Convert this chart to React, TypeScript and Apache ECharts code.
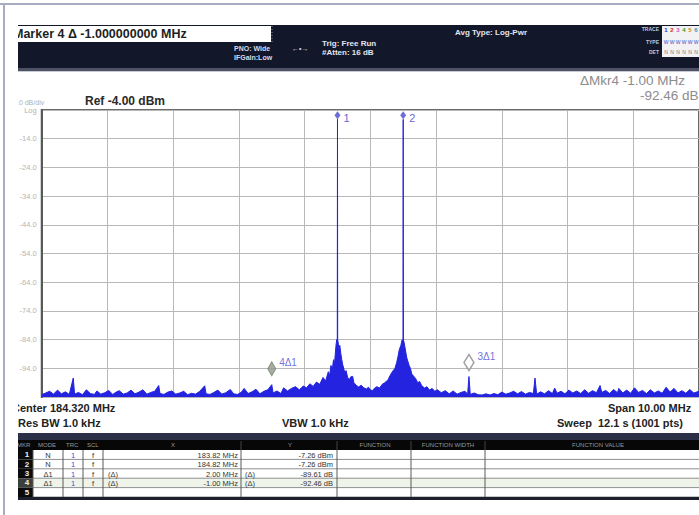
import React, { useEffect, useRef } from "react";
import * as echarts from "echarts";

// ---- instrument settings ----
const CENTER_MHZ = 184.32;
const SPAN_MHZ = 10;
const REF_DBM = -4;
const DB_PER_DIV = 10;

// ---- trace (frequency MHz, level dBm) ----
const trace: [number, number][] = [
  [179.32, -103.2], [179.38, -102.6], [179.44, -102.0], [179.5, -103.0], [179.56, -101.6],
  [179.62, -102.9], [179.68, -102.2], [179.74, -103.1], [179.8, -97.4], [179.82, -103.0],
  [179.88, -102.4], [179.94, -103.2], [180.0, -101.5], [180.06, -102.8], [180.12, -103.1],
  [180.16, -101.9], [180.22, -103.0], [180.28, -102.5], [180.34, -101.7], [180.4, -103.1],
  [180.46, -102.2], [180.5, -101.8], [180.56, -103.0], [180.62, -102.6], [180.68, -101.6],
  [180.74, -102.9], [180.8, -102.3], [180.86, -101.5], [180.92, -103.0], [180.98, -102.4],
  [181.04, -102.0], [181.1, -100.0], [181.12, -102.8], [181.18, -103.1], [181.24, -102.3],
  [181.3, -101.9], [181.36, -103.0], [181.42, -102.6], [181.48, -102.0], [181.54, -103.2],
  [181.6, -102.7], [181.66, -103.0], [181.72, -102.1], [181.8, -100.1], [181.82, -102.9],
  [181.88, -103.1], [181.94, -102.4], [182.0, -101.6], [182.06, -103.0], [182.12, -102.5],
  [182.19, -101.4], [182.24, -102.9], [182.3, -103.1], [182.36, -102.3], [182.4, -101.0],
  [182.46, -102.8], [182.52, -102.2], [182.58, -101.3], [182.64, -102.9], [182.7, -102.0],
  [182.76, -101.5], [182.82, -99.7], [182.84, -102.6], [182.9, -101.9], [182.96, -102.8],
  [183.0, -100.8], [183.06, -101.9], [183.12, -101.0], [183.18, -100.4], [183.24, -101.5],
  [183.3, -100.2], [183.35, -100.8], [183.4, -99.4], [183.45, -100.3], [183.5, -98.8],
  [183.55, -99.6], [183.6, -97.2], [183.64, -98.4], [183.68, -95.2], [183.7, -96.6],
  [183.72, -93.0], [183.74, -94.5], [183.76, -91.0], [183.775, -92.5], [183.79, -88.0],
  [183.8, -85.5], [183.81, -84.0], [183.817, -84.6], [183.82, -7.26], [183.823, -84.2],
  [183.83, -84.9], [183.84, -87.5], [183.855, -86.0], [183.87, -88.8], [183.885, -91.0],
  [183.9, -92.8], [183.915, -94.0], [183.93, -95.5], [183.95, -94.8], [183.975, -97.2],
  [184.0, -98.0], [184.02, -97.0], [184.05, -96.8], [184.07, -99.0], [184.1, -99.8],
  [184.14, -100.5], [184.18, -99.9], [184.22, -100.8], [184.26, -101.2], [184.29, -100.6],
  [184.32, -101.5], [184.35, -101.8], [184.38, -101.0], [184.42, -100.4], [184.46, -100.9],
  [184.5, -99.6], [184.54, -99.0], [184.59, -98.0], [184.62, -96.5], [184.66, -95.0],
  [184.695, -94.0], [184.72, -92.0], [184.74, -90.0], [184.76, -87.5], [184.785, -86.0],
  [184.8, -84.3], [184.81, -84.0], [184.817, -84.5], [184.82, -7.26], [184.823, -84.2],
  [184.83, -84.6], [184.845, -86.5], [184.86, -88.5], [184.875, -90.4], [184.89, -91.5],
  [184.91, -93.0], [184.93, -94.0], [184.95, -96.0], [184.98, -96.8], [185.01, -97.6],
  [185.04, -99.0], [185.07, -98.6], [185.1, -100.0], [185.145, -100.9], [185.18, -100.4],
  [185.22, -101.6], [185.26, -101.0], [185.3, -102.0], [185.34, -101.5], [185.4, -102.5],
  [185.46, -101.8], [185.52, -102.9], [185.58, -101.9], [185.64, -103.0], [185.7, -102.4],
  [185.76, -102.0], [185.8, -103.0], [185.82, -96.87], [185.84, -103.1], [185.9, -102.6],
  [185.96, -103.2], [186.02, -103.3], [186.08, -102.9], [186.14, -103.3], [186.2, -102.8],
  [186.26, -103.2], [186.32, -102.3], [186.38, -103.0], [186.44, -102.6], [186.5, -102.0],
  [186.56, -102.9], [186.62, -102.1], [186.68, -103.0], [186.74, -102.4], [186.8, -102.8],
  [186.825, -97.4], [186.85, -103.0], [186.91, -102.2], [186.97, -102.9], [187.03, -101.8],
  [187.09, -102.8], [187.125, -100.9], [187.16, -102.7], [187.22, -102.0], [187.28, -102.9],
  [187.34, -101.6], [187.4, -102.6], [187.46, -101.9], [187.52, -102.8], [187.58, -101.5],
  [187.64, -102.7], [187.7, -101.8], [187.76, -102.5], [187.815, -100.0], [187.84, -102.4],
  [187.9, -101.7], [187.96, -102.8], [188.02, -101.4], [188.08, -102.5], [188.1, -101.0],
  [188.16, -102.6], [188.22, -101.6], [188.28, -102.7], [188.34, -100.8], [188.4, -102.4],
  [188.46, -101.7], [188.52, -102.8], [188.58, -101.5], [188.64, -102.6], [188.7, -101.9],
  [188.76, -102.7], [188.82, -100.6], [188.88, -102.3], [188.94, -101.0], [189.0, -102.6],
  [189.06, -101.8], [189.12, -102.7], [189.18, -101.4], [189.24, -102.6], [189.32, -102.0],
];

// ---- markers ----
const markerFreqMHz = [183.82, 184.82];
const markerLevelDbm = [-7.26, -7.26];
const deltaMarkerIds = ["3Δ1", "4Δ1"];
const deltaFreqMHz = [2.0, -1.0];
const deltaLevelDb = [-89.61, -92.46];

// ---- marker table ----
const tableHeaders = ["MKR", "MODE", "TRC", "SCL", "X", "Y", "FUNCTION", "FUNCTION WIDTH", "FUNCTION VALUE"];
const mkrNumbers = ["1", "2", "3", "4", "5"];
const mkrModes = ["N", "N", "Δ1", "Δ1"];
const mkrTrace = ["1", "1", "1", "1"];
const mkrScale = ["f", "f", "f", "f"];
const mkrXFunc = ["", "", "(Δ)", "(Δ)"];
const mkrX = ["183.82 MHz", "184.82 MHz", "2.00 MHz", "-1.00 MHz"];
const mkrYFunc = ["", "", "(Δ)", "(Δ)"];
const mkrY = ["-7.26 dBm", "-7.26 dBm", "-89.61 dB", "-92.46 dB"];

const FONT = '"Liberation Sans", Arial, sans-serif';

function txt(x: number, y: number, text: string, fill: string, font: string, align = "left", z = 50) {
  return { type: "text", x, y, z, silent: true, style: { text, fill, font, align, verticalAlign: "middle" } };
}
function rect(x: number, y: number, w: number, h: number, fill: string, z = 10) {
  return { type: "rect", z, silent: true, shape: { x, y, width: w, height: h }, style: { fill } };
}
function line(x1: number, y1: number, x2: number, y2: number, stroke: string, lw = 1, z = 20, dash?: number[]) {
  return { type: "line", z, silent: true, shape: { x1, y1, x2, y2 }, style: { stroke, lineWidth: lw, lineDash: dash } };
}

function buildGraphic() {
  const g: any[] = [];
  // outer frame
  g.push(line(0, 4, 699, 4, "#a9acc0", 2, 5));
  g.push(line(4, 4, 4, 515, "#a9acc0", 2, 5));
  // header bar
  g.push(rect(18, 25, 681, 44, "#12172a", 10));
  g.push(rect(18, 68, 681, 3, "#4d5164", 11));
  g.push(rect(18, 71, 681, 1, "#c9cad2", 11));
  g.push(rect(18, 26, 253, 16, "#ffffff", 12));
  g.push(txt(13, 34, "Marker 4 Δ -1.000000000 MHz", "#1e1e1e", `bold 12.5px ${FONT}`));
  g.push(line(272, 26, 272, 44, "#8a8da0", 1, 13, [1, 2]));
  g.push(txt(234, 48, "PNO: Wide", "#d8dbe6", `bold 7px ${FONT}`));
  g.push(txt(234, 57, "IFGain:Low", "#d8dbe6", `bold 7px ${FONT}`));
  g.push(txt(292, 48, "←•→", "#d8dbe6", `bold 7px ${FONT}`));
  g.push(txt(322, 43, "Trig: Free Run", "#e2e5ef", `bold 8px ${FONT}`));
  g.push(txt(322, 52, "#Atten: 16 dB", "#e2e5ef", `bold 8px ${FONT}`));
  g.push(txt(455, 32, "Avg Type: Log-Pwr", "#e2e5ef", `bold 8px ${FONT}`));
  g.push(txt(659, 29, "TRACE", "#c3c7d6", `bold 5px ${FONT}`, "right"));
  g.push(txt(659, 42, "TYPE", "#c3c7d6", `bold 5px ${FONT}`, "right"));
  g.push(txt(659, 52, "DET", "#c3c7d6", `bold 5px ${FONT}`, "right"));
  g.push(rect(662, 26, 37, 31, "#f2f2f4", 12));
  const traceColors = ["#2a2ad0", "#d02828", "#c060c0", "#2a9a2a", "#c08a20", "#2a9ac0"];
  for (let i = 0; i < 6; i++) {
    g.push(txt(666 + i * 6, 30, String(i + 1), traceColors[i], `bold 6px ${FONT}`, "center"));
    g.push(txt(666 + i * 6, 42, "W", "#4646c8", `5px ${FONT}`, "center"));
    g.push(txt(666 + i * 6, 52, "N", "#777", `5px ${FONT}`, "center"));
  }
  // marker readout
  g.push(txt(580, 80, "ΔMkr4 -1.00 MHz", "#8c8c8c", `13.5px ${FONT}`));
  g.push(txt(640, 95, "-92.46 dB", "#8c8c8c", `13.5px ${FONT}`));
  // scale texts
  g.push(txt(15, 102, "10 dB/div", "#aeb0b8", `7px ${FONT}`));
  g.push(txt(85, 101, `Ref ${REF_DBM.toFixed(2)} dBm`, "#2a2a2a", `bold 12px ${FONT}`));
  // bottom texts
  g.push(txt(12, 408, `Center ${CENTER_MHZ.toFixed(3)} MHz`, "#222", `bold 11px ${FONT}`));
  g.push(txt(12, 423, "#Res BW 1.0 kHz", "#222", `bold 11px ${FONT}`));
  g.push(txt(282, 423, "VBW 1.0 kHz", "#222", `bold 11px ${FONT}`));
  g.push(txt(608, 408, `Span ${SPAN_MHZ.toFixed(2)} MHz`, "#222", `bold 11px ${FONT}`));
  g.push(txt(557, 423, "Sweep  12.1 s (1001 pts)", "#222", `bold 11px ${FONT}`));

  // table
  const tTop = 433;
  g.push(rect(18, tTop, 681, 7, "#2b3046", 10));
  g.push(rect(18, tTop + 7, 681, 10, "#070707", 10));
  const hy = tTop + 12;
  const hf = `6px ${FONT}`;
  const hc = "#9a9a9a";
  g.push(txt(17, hy, tableHeaders[0], hc, hf));
  g.push(txt(38, hy, tableHeaders[1], hc, hf));
  g.push(txt(66, hy, tableHeaders[2], hc, hf));
  g.push(txt(87, hy, tableHeaders[3], hc, hf));
  g.push(txt(173, hy, tableHeaders[4], hc, hf, "center"));
  g.push(txt(290, hy, tableHeaders[5], hc, hf, "center"));
  g.push(txt(375, hy, tableHeaders[6], hc, hf, "center"));
  g.push(txt(448, hy, tableHeaders[7], hc, hf, "center"));
  g.push(txt(598, hy, tableHeaders[8], hc, hf, "center"));
  const rowTop = tTop + 17;
  const rh = 9.4;
  const nRows = mkrNumbers.length;
  for (let r = 0; r < nRows; r++) {
    const y0 = rowTop + r * rh;
    g.push(rect(33, y0, 666, rh, r === 3 ? "#eef4ea" : "#ffffff", 10));
    g.push(rect(18, y0, 15, rh, r === 3 ? "#3a3f3a" : "#0b0b0b", 11));
    g.push(txt(27, y0 + rh / 2, mkrNumbers[r], "#f0f0f0", `bold 8px ${FONT}`, "center"));
    g.push(line(33, y0 + rh, 699, y0 + rh, "#8f8f8f", 1, 14));
    const cy = y0 + rh / 2 + 0.5;
    const f = `7.5px ${FONT}`;
    if (r < mkrModes.length) {
      g.push(txt(48, cy, mkrModes[r], "#333", f, "center"));
      g.push(txt(73, cy, mkrTrace[r], "#4a4ae0", f, "center"));
      g.push(txt(93, cy, mkrScale[r], "#333", f, "center"));
      g.push(txt(108, cy, mkrXFunc[r], "#333", f));
      g.push(txt(238, cy, mkrX[r], "#333", f, "right"));
      g.push(txt(245, cy, mkrYFunc[r], "#333", f));
      g.push(txt(333, cy, mkrY[r], "#333", f, "right"));
    }
  }
  const tBottom = rowTop + nRows * rh;
  [33, 63, 83, 103, 241, 337, 411, 485].forEach((x) => g.push(line(x, rowTop, x, tBottom, "#5a5a5a", 1, 15)));
  [241, 337, 411, 485].forEach((x) => g.push(line(x, tTop + 8, x, rowTop, "#444", 1, 15)));
  g.push(rect(18, tBottom, 681, 3, "#1c1f2c", 16));

  // cover for the left cut edge of the screenshot
  g.push(rect(6, 20, 12, 495, "#ffffff", 100));
  return g;
}

export default function App() {
  const ref = useRef<HTMLDivElement>(null);
  useEffect(() => {
    if (!ref.current) return;
    const chart = echarts.init(ref.current, undefined, { renderer: "svg" });
    const halfSpan = SPAN_MHZ / 2;
    const traceData = trace.map(([f, l]) => [f - CENTER_MHZ, l - REF_DBM]);
    const m1 = [markerFreqMHz[0] - CENTER_MHZ, markerLevelDbm[0] - REF_DBM];
    const markerItems: any[] = markerFreqMHz.map((f, i) => ({
      value: [f - CENTER_MHZ, markerLevelDbm[i] - REF_DBM],
      symbol: "diamond",
      symbolSize: [6, 8],
      symbolOffset: [0, -4],
      itemStyle: { color: "#4a4ad0" },
      label: {
        show: true,
        formatter: String(i + 1),
        position: "right",
        distance: 3,
        offset: [0, 3],
        color: "#3a3ac8",
        fontSize: 11,
        fontFamily: FONT,
      },
    }));
    deltaMarkerIds.forEach((id, i) => {
      const hollow = id.startsWith("3");
      markerItems.push({
        value: [m1[0] + deltaFreqMHz[i], m1[1] + deltaLevelDb[i]],
        symbol: "diamond",
        symbolSize: hollow ? [10, 16] : [8, 14],
        symbolOffset: [0, hollow ? -14 : -16],
        itemStyle: hollow
          ? { color: "#ffffff", borderColor: "#8a8a8a", borderWidth: 1.5 }
          : { color: "#8f9a8a", borderColor: "#77806f", borderWidth: 1 },
        label: {
          show: true,
          formatter: id,
          position: "right",
          distance: 3,
          offset: [0, -6],
          color: "#4b4bd6",
          fontSize: 10,
          fontFamily: FONT,
        },
      });
    });

    const option: any = {
      animation: false,
      backgroundColor: "#ffffff",
      grid: {
        left: 41.7,
        top: 110,
        width: 666.7,
        height: 287,
        show: true,
        borderColor: "#6a6a6a",
        borderWidth: 2,
        backgroundColor: "#ffffff",
      },
      xAxis: {
        type: "value",
        min: -halfSpan,
        max: halfSpan,
        interval: SPAN_MHZ / 10,
        axisLine: { show: false, onZero: false },
        axisTick: { show: false },
        axisLabel: { show: false },
        splitLine: { show: true, lineStyle: { color: "#b8b8b8", width: 1 } },
      },
      yAxis: {
        type: "value",
        min: -10 * DB_PER_DIV,
        max: 0,
        interval: DB_PER_DIV,
        axisLine: { show: true, onZero: false, lineStyle: { color: "#5a5a5a", width: 2 } },
        axisTick: { show: false },
        axisLabel: {
          color: "#b4b4b4",
          fontSize: 7.5,
          fontFamily: FONT,
          margin: 5,
          formatter: (v: number) => {
            if (v === 0) return "Log";
            if (v === -10 * DB_PER_DIV) return "";
            return (v + REF_DBM).toFixed(1);
          },
        },
        splitLine: { show: true, lineStyle: { color: "#b8b8b8", width: 1 } },
      },
      series: [
        {
          type: "line",
          data: traceData,
          symbol: "none",
          lineStyle: { color: "#2323e0", width: 1 },
          areaStyle: { color: "#2323e0", opacity: 1, origin: "start" },
          z: 3,
        },
        {
          type: "scatter",
          data: markerItems,
          z: 5,
        },
      ],
      graphic: buildGraphic(),
    };
    chart.setOption(option);
    return () => chart.dispose();
  }, []);
  return (
    <div
      ref={ref}
      style={{ position: "fixed", left: 0, top: 0, width: 699, height: 515, background: "#fff" }}
    />
  );
}
